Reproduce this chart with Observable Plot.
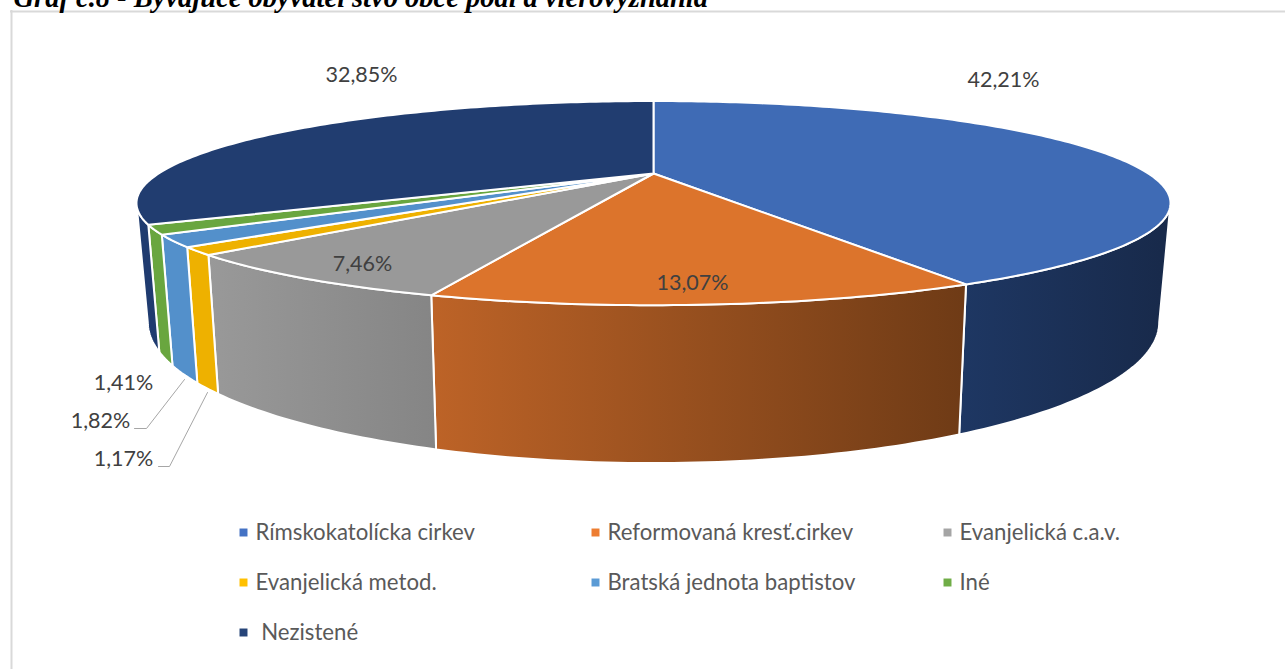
<!DOCTYPE html>
<html><head><meta charset="utf-8">
<script src="https://cdn.jsdelivr.net/npm/d3@7"></script>
<script src="https://cdn.jsdelivr.net/npm/@observablehq/plot@0.6"></script>
<style>html,body{margin:0;padding:0;background:#fff;overflow:hidden}svg{display:block}</style>
</head><body><div id="chart"></div>
<script>
const categories = ["Rímskokatolícka cirkev","Reformovaná kresť.cirkev","Evanjelická c.a.v.","Evanjelická metod.","Bratská jednota baptistov","Iné"," Nezistené"];
const shares = [42.21,13.07,7.46,1.17,1.82,1.41,32.85];
const shareLabels = ["42,21%","13,07%","7,46%","1,17%","1,82%","1,41%","32,85%"];
const topColors = ["#3f6bb5","#dc742c","#999999","#eeb100","#5390cb","#69a63f","#213d70"];
const wallColors = ["url(#w0)","url(#w1)","url(#w2)","#eeb100","#5390cb","#69a63f","#1f3b6f"];
const legendColors = ["#4472c4","#ed7d31","#a5a5a5","#ffc000","#5b9bd5","#70ad47","#264478"];
const title = "Graf č.8 - Bývajúce obyvateľstvo obce podľa vierovyznania";

// Perspective projection of a unit circle (top face / bottom face of the pie)
const topFace = {c:173, A:494.8, B:93.5, k:0.29};
const botFace = {c:280.9, A:484, B:129, k:0.29};
const cx = 653;
const proj = (f, a) => {
  const X = Math.sin(a), Y = -Math.cos(a), w = 1 - f.k * Y;
  return {x: cx + f.A * X / w, y: f.c + f.B * Y / w};
};
const TAU = 2 * Math.PI;
const cum = d3.cumsum(shares);
const total = cum[cum.length - 1];
const slices = shares.map((v, i) => ({i, a0: (cum[i] - v) / total * TAU, a1: cum[i] / total * TAU}));
const arcPts = (f, a0, a1) => {
  const n = Math.max(2, Math.ceil((a1 - a0) * 60));
  return d3.range(n + 1).map(j => proj(f, a0 + (a1 - a0) * j / n));
};
const silR = Math.PI / 2 + Math.asin(topFace.k), silL = TAU - silR;
const topPolys = slices.flatMap(s => [{x: cx, y: topFace.c}, ...arcPts(topFace, s.a0, s.a1)].map(p => ({...p, i: s.i})));
const wallPolys = slices.filter(s => s.a1 > silR && s.a0 < silL).flatMap(s => {
  const a0 = Math.max(s.a0, silR), a1 = Math.min(s.a1, silL);
  return [...arcPts(topFace, a0, a1), ...arcPts(botFace, a0, a1).reverse()].map(p => ({...p, i: s.i}));
});

const labelX = [1003,692,362,123,100,123,361];
const labelY = [80,283,264,459,421,383,75];
const labels = shareLabels.map((t, i) => ({t, x: labelX[i], y: labelY[i]}));
const leaders = [[3,207,392,169,466,158],[4,184,379,146,428,134]].flatMap(([i,a,b,c,d,e]) =>
  [{i,x:a,y:b},{i,x:c,y:d},{i,x:e,y:d}]);

const legendX = [243,595,947,243,595,947,243];
const legendY = [532,532,532,582,582,582,632];
const legend = categories.map((t, i) => ({t, x: legendX[i], y: legendY[i], c: legendColors[i]}));

const defs = () => {
  const ns = "http://www.w3.org/2000/svg";
  const d = document.createElementNS(ns, "defs");
  const grad = (id, x1, x2, c1, c2) => {
    const g = document.createElementNS(ns, "linearGradient");
    g.setAttribute("id", id); g.setAttribute("gradientUnits", "userSpaceOnUse");
    g.setAttribute("x1", x1); g.setAttribute("x2", x2); g.setAttribute("y1", 0); g.setAttribute("y2", 0);
    [[0,c1],[1,c2]].forEach(([o,c]) => {
      const s = document.createElementNS(ns, "stop");
      s.setAttribute("offset", o); s.setAttribute("stop-color", c); g.appendChild(s);
    });
    d.appendChild(g);
  };
  grad("w0", 960, 1160, "#1e3763", "#182a4b");
  grad("w1", 432, 962, "#bd6327", "#6f3b16");
  grad("w2", 208, 436, "#999999", "#858585");
  const g = document.createElementNS(ns, "g");
  g.appendChild(d);
  return g;
};

const font = "Lato, sans-serif";
const chart = Plot.plot({
  width: 1285, height: 669, margin: 0,
  x: {domain: [0, 1285], range: [0, 1285], axis: null},
  y: {domain: [0, 669], range: [0, 669], axis: null},
  color: {type: "identity"},
  style: {background: "#fff", fontFamily: font},
  marks: [
    defs,
    Plot.ruleY([11], {x1: 10, x2: 1285, stroke: "#d9d9d9", strokeWidth: 2}),
    Plot.ruleX([11], {y1: 10, y2: 669, stroke: "#d9d9d9", strokeWidth: 2}),
    Plot.text([title], {x: 13, y: 6, text: d => d, textAnchor: "start", lineAnchor: "bottom", fontFamily: "Liberation Serif", fontWeight: "bold", fontStyle: "italic", fontSize: 28.5, fill: "#000"}),
    Plot.line(wallPolys, {x: "x", y: "y", z: "i", fill: d => wallColors[d.i], stroke: "#fff", strokeWidth: 2, curve: "linear-closed"}),
    Plot.line(topPolys, {x: "x", y: "y", z: "i", fill: d => topColors[d.i], stroke: "#fff", strokeWidth: 2, curve: "linear-closed"}),
    Plot.line(leaders, {x: "x", y: "y", z: "i", stroke: "#a6a6a6", strokeWidth: 1}),
    Plot.text(labels, {x: "x", y: "y", text: "t", fontSize: 21.5, fill: "#404040"}),
    Plot.dot(legend, {x: "x", y: "y", symbol: "square", r: 4.5, fill: "c", stroke: "none"}),
    Plot.text(legend, {x: d => d.x + 12, y: "y", text: "t", textAnchor: "start", fontSize: 22.2, fill: "#595959"})
  ]
});
document.getElementById("chart").appendChild(chart);
</script></body></html>
